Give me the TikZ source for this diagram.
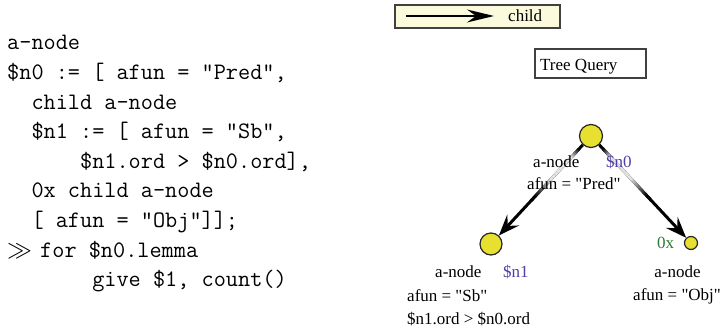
\documentclass[tikz,border=0pt]{standalone}
\usepackage{fontspec}
\newfontfamily\timesf{Liberation Serif}
\usetikzlibrary{arrows.meta,calc}
\definecolor{qyellow}{HTML}{E8E031}
\definecolor{qpurple}{HTML}{4E3FA6}
\definecolor{qgreen}{HTML}{2F7A34}
\definecolor{legfill}{HTML}{FBFADC}
\newcommand\fadeedge[2]{%
  \foreach \k in {0,...,39}{%
    \pgfmathsetmacro\ta{0.12+\k*0.012}%
    \pgfmathsetmacro\tb{\ta+0.013}%
    \pgfmathsetmacro\tm{\ta+0.006}%
    \pgfmathsetmacro\dk{\tm<0.2 ? 100-(\tm-0.12)/0.08*90 : (\tm<0.40 ? 10 : min(100,10+(\tm-0.40)/0.16*90))}%
    \draw[line width=3pt, black!\dk!white] ($(#1)!\ta!(#2)$) -- ($(#1)!\tb!(#2)$);
  }}
\begin{document}
\begin{tikzpicture}[x=1pt,y=-1pt,
  codeline/.style={anchor=base west, inner sep=0pt, font=\fontsize{23.6}{29.6}\selectfont\ttfamily},
  lbl/.style={anchor=base west, inner sep=0pt, font=\timesf\fontsize{17}{20}\selectfont},
  qnode/.style={circle, draw=black!85, line width=1.2pt, fill=qyellow, inner sep=0pt},
  qedge/.style={line width=3pt, -{Stealth[length=21pt,width=16pt,inset=8pt]}},
  boxed/.style={draw=black!75, line width=1.5pt, inner sep=0pt}]
\useasboundingbox (0,0) rectangle (724,328);
% code
\node[codeline] (c1) at (7,50) {a-node};
\node[codeline] (c2) at (7,79.6) {\$n0 := [ afun = "Pred",};
\node[codeline] (c3) at (7,109.2) {\phantom{xx}child a-node};
\node[codeline] (c4) at (7,138.8) {\phantom{xx}\$n1 := [ afun = "Sb",};
\node[codeline] (c5) at (7,168.4) {\phantom{xxxxxx}\$n1.ord > \$n0.ord],};
\node[codeline] (c6) at (7,198) {\phantom{xx}0x child a-node};
\node[codeline] (c7) at (7,227.6) {\phantom{xx}[ afun = "Obj"]];};
\node[codeline] (c8) at (7,257.2) {\makebox[33pt][l]{$\gg$}for \$n0.lemma};
\node[codeline] (c9) at (7,286.8) {\phantom{xxxxxxx}give \$1, count()};
% legend
\node[boxed, fill=legfill, minimum width=165pt, minimum height=23pt] (legend) at (477.5,16.5) {};
\coordinate (la) at (406,16);
\coordinate (lb) at (494,16);
\draw[line width=1.5pt, -{Stealth[length=27pt,width=13pt,inset=9pt]}] (la) -- (lb);
\node[lbl] (lchild) at (508,22) {child};
% tree query box
\node[boxed, minimum width=111pt, minimum height=29pt] (tq) at (590.5,63.5) {};
\node[lbl] (tqt) at (540,71) {Tree Query};
% nodes
\node[qnode, minimum size=23pt] (n0) at (591,136) {};
\node[qnode, minimum size=22pt] (n1) at (491,244) {};
\node[qnode, minimum size=13pt] (n2) at (691,243) {};
% edges
\draw[qedge] (n0) -- (n1);
\draw[qedge] (n0) -- (n2);
\fadeedge{n0}{n1}
\fadeedge{n0}{n2}
% labels
\node[lbl] (l0a) at (533,168) {a-node};
\node[lbl, text=qpurple] (l0b) at (606,168) {\$n0};
\node[lbl] (l0c) at (527,190) {afun = "Pred"};
\node[lbl] (l1a) at (435,278) {a-node};
\node[lbl, text=qpurple] (l1b) at (503,278) {\$n1};
\node[lbl] (l1c) at (407,301.5) {afun = "Sb"};
\node[lbl] (l1d) at (407,324.5) {\$n1.ord > \$n0.ord};
\node[lbl, text=qgreen] (l2x) at (657,249) {0x};
\node[lbl, anchor=base] (l2a) at (677.5,278) {a-node};
\node[lbl] (l2c) at (633,301) {afun = "Obj"};
\end{tikzpicture}
\end{document}
